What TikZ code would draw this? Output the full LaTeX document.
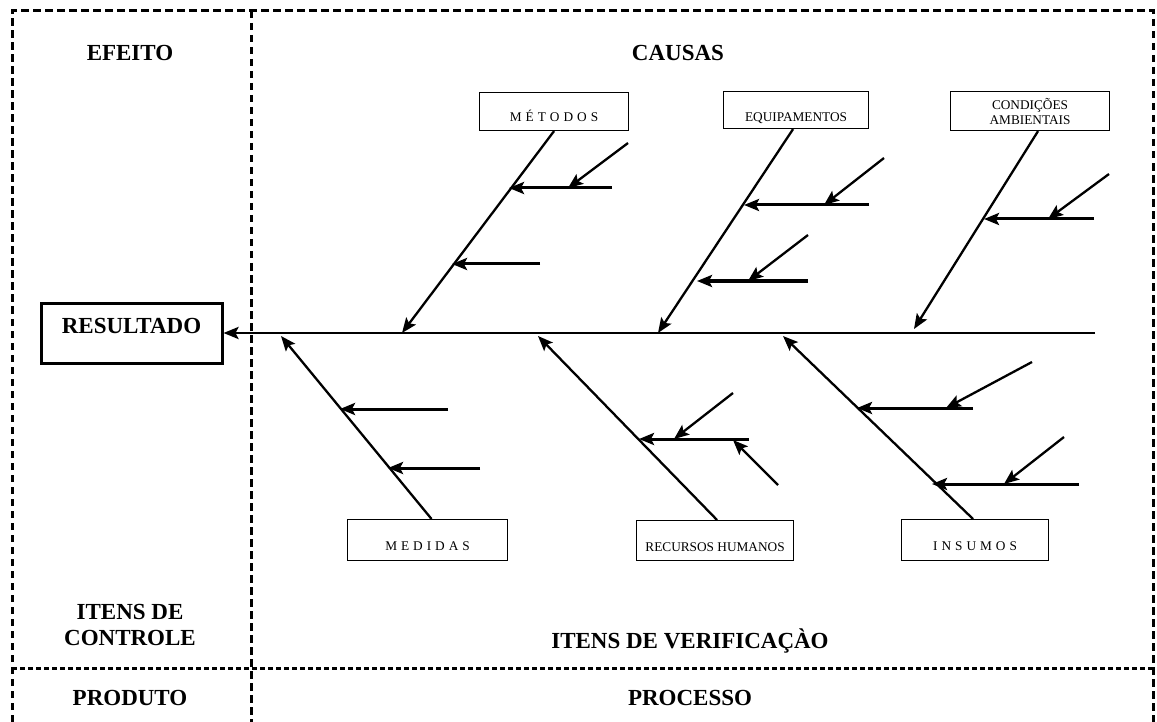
\documentclass[tikz,border=0pt]{standalone}
\usepackage{fontspec}
\setmainfont{Liberation Serif}
\usetikzlibrary{arrows.meta}
% spacing between the letters of tracked labels
\newcommand\ls{\hspace{4pt}}
\begin{document}
\begin{tikzpicture}[x=1pt,y=-1pt,
  frame/.style={line width=3pt, dash pattern=on 7.5pt off 4.5pt},
  title/.style={font=\fontsize{23}{26}\selectfont\bfseries, inner sep=0pt, align=center},
  causebox/.style={draw, line width=1.1pt, inner sep=0pt, anchor=north west,
    font=\fontsize{13.3}{15}\selectfont, align=center},
  tip/.style={-{Stealth[length=15pt,width=12pt,inset=3pt]}},
  bone/.style={tip, line width=2.3pt},
  twig/.style={tip, line width=3pt},
  leaf/.style={tip, line width=2.3pt},
]
\useasboundingbox (0,0) rectangle (1157,722);

% dashed frame and dividers
\draw[frame] (12,722) -- (12,11) -- (1153,11) -- (1153,722);
\draw[frame] (251,11) -- (251,722);
\draw[frame, dash pattern=on 5pt off 3pt] (12,668) -- (1153,668);

% column titles
\node[title, anchor=base] (efeito) at (130,61) {EFEITO};
\node[title, anchor=base] (causas) at (678,61) {CAUSAS};
\node[title] (itens) at (130,625) {ITENS DE\\CONTROLE};
\node[title, anchor=base] (verif) at (690,648) {ITENS DE VERIFICAÇÀO};
\node[title, anchor=base] (produto) at (130,705) {PRODUTO};
\node[title, anchor=base] (processo) at (690,705) {PROCESSO};

% effect box
\node[draw, line width=3pt, inner sep=0pt, minimum width=181pt,
  text height=30pt, text depth=30pt, font=\fontsize{23}{26}\selectfont\bfseries]
  (res) at (131.5,333) {RESULTADO};

% cause boxes
\node[causebox, minimum width=149pt, text height=29pt, text depth=9pt]
  (met) at (479,92) {M\ls É\ls T\ls O\ls D\ls O\ls S};
\node[causebox, minimum width=145pt, text height=30pt, text depth=7pt]
  (equ) at (723,91) {EQUIPAMENTOS};
\node[causebox, minimum width=159pt, minimum height=39pt]
  (cond) at (950,91) {CONDIÇÕES\\AMBIENTAIS};
\node[causebox, minimum width=160pt, text height=31pt, text depth=10pt]
  (med) at (347,519) {M\ls E\ls D\ls I\ls D\ls A\ls S};
\node[causebox, minimum width=157pt, text height=31pt, text depth=9pt]
  (rh) at (636,520) {RECURSOS HUMANOS};
\node[causebox, minimum width=147pt, text height=31pt, text depth=10pt]
  (ins) at (901,519) {I\ls N\ls S\ls U\ls M\ls O\ls S};

% spine
\coordinate (head) at (1095,333);
\draw[bone, line width=2.8pt] (head) -- (res.east);

% main bones
\coordinate (mS) at (402,333);
\coordinate (eS) at (658,333);
\coordinate (cS) at (914,329);
\coordinate (dS) at (281,336);
\coordinate (rS) at (538,336);
\coordinate (iS) at (783,336);
\draw[bone] (met.south) -- (mS);
\draw[bone] ([xshift=-3pt]equ.south) -- (eS);
\draw[bone] ([xshift=8pt]cond.south) -- (cS);
\draw[bone] ([xshift=4pt]med.north) -- (dS);
\draw[bone] ([xshift=2pt]rh.north) -- (rS);
\draw[bone] ([xshift=-2pt]ins.north) -- (iS);

% METODOS branches
\coordinate (m1a) at (612,188); \coordinate (m1b) at (509,188);
\coordinate (m1c) at (628,143); \coordinate (m1d) at (568,188);
\coordinate (m2a) at (540,264); \coordinate (m2b) at (452,264);
\draw[twig] (m1a) -- (m1b);
\draw[leaf] (m1c) -- (m1d);
\draw[twig] (m2a) -- (m2b);

% EQUIPAMENTOS branches
\coordinate (e1a) at (869,205); \coordinate (e1b) at (744,205);
\coordinate (e1c) at (884,158); \coordinate (e1d) at (824,205);
\coordinate (e2a) at (808,281); \coordinate (e2b) at (697,281);
\coordinate (e2c) at (808,235); \coordinate (e2d) at (748,281);
\draw[twig] (e1a) -- (e1b);
\draw[leaf] (e1c) -- (e1d);
\draw[twig] (e2a) -- (e2b);
\draw[leaf] (e2c) -- (e2d);

% CONDICOES branches
\coordinate (c1a) at (1094,219); \coordinate (c1b) at (984,219);
\coordinate (c1c) at (1109,174); \coordinate (c1d) at (1048,219);
\draw[twig] (c1a) -- (c1b);
\draw[leaf] (c1c) -- (c1d);

% MEDIDAS branches
\coordinate (d1a) at (448,409); \coordinate (d1b) at (340,409);
\coordinate (d2a) at (480,468); \coordinate (d2b) at (388,468);
\draw[twig] (d1a) -- (d1b);
\draw[twig] (d2a) -- (d2b);

% RECURSOS HUMANOS branches
\coordinate (r1a) at (749,439); \coordinate (r1b) at (639,439);
\coordinate (r1c) at (733,393); \coordinate (r1d) at (674,439);
\coordinate (r1e) at (778,485); \coordinate (r1f) at (733,440);
\draw[twig] (r1a) -- (r1b);
\draw[leaf] (r1c) -- (r1d);
\draw[leaf] (r1e) -- (r1f);

% INSUMOS branches
\coordinate (i1a) at (973,408); \coordinate (i1b) at (857,408);
\coordinate (i1c) at (1032,362); \coordinate (i1d) at (946,408);
\coordinate (i2a) at (1079,484); \coordinate (i2b) at (932,484);
\coordinate (i2c) at (1064,437); \coordinate (i2d) at (1004,484);
\draw[twig] (i1a) -- (i1b);
\draw[leaf] (i1c) -- (i1d);
\draw[twig] (i2a) -- (i2b);
\draw[leaf] (i2c) -- (i2d);
\end{tikzpicture}
\end{document}
